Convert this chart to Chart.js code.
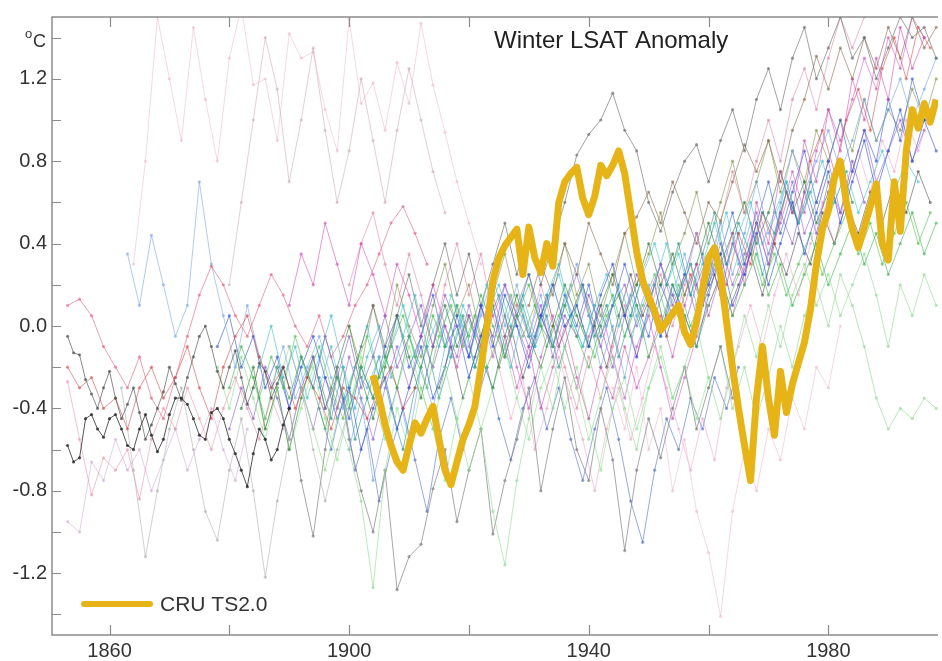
<!DOCTYPE html>
<html>
<head>
<meta charset="utf-8">
<title>Winter LSAT Anomaly</title>
<script src="https://cdn.jsdelivr.net/npm/chart.js@4.4.1/dist/chart.umd.min.js"></script>
<style>
  html, body { margin: 0; padding: 0; background: #fff; overflow: hidden; }
  #wrap { width: 942px; height: 661px; }
</style>
</head>
<body>
<div id="wrap"><canvas id="lsatChart" width="942" height="661"></canvas></div>
<script>
// axis ticks
const xTickYears = [1860, 1880, 1900, 1920, 1940, 1960, 1980];
const xLabelYears = [1860, 1900, 1940, 1980];
const yTickValues = [-1.4, -1.2, -1.0, -0.8, -0.6, -0.4, -0.2, 0.0, 0.2, 0.4, 0.6, 0.8, 1.0, 1.2, 1.4];
const yLabelValues = [-1.2, -0.8, -0.4, 0.0, 0.4, 0.8, 1.2];

// CRU TS2.0, annual from 1904
const cruStart = 1904;
const cruValues = [
  -0.24, -0.35, -0.48, -0.58, -0.66, -0.70, -0.58, -0.47, -0.52, -0.45,
  -0.39, -0.55, -0.70, -0.77, -0.66, -0.55, -0.48, -0.39, -0.20, 0.00,
  0.22, 0.33, 0.39, 0.43, 0.47, 0.25, 0.48, 0.33, 0.26, 0.40,
  0.29, 0.60, 0.70, 0.74, 0.77, 0.62, 0.54, 0.63, 0.78, 0.73,
  0.78, 0.85, 0.74, 0.55, 0.36, 0.22, 0.14, 0.07, -0.02, 0.02,
  0.06, 0.10, -0.03, -0.09, 0.02, 0.18, 0.33, 0.38, 0.25, 0.02,
  -0.20, -0.40, -0.58, -0.75, -0.35, -0.10, -0.35, -0.53, -0.22, -0.42,
  -0.28, -0.18, -0.08, 0.08, 0.30, 0.47, 0.56, 0.72, 0.80, 0.60,
  0.47, 0.38, 0.48, 0.58, 0.69, 0.40, 0.32, 0.70, 0.46, 0.85,
  1.05, 0.96, 1.08, 0.99, 1.10
];

// individual station / proxy series
const s01 = [-0.58,-0.66,-0.64,-0.45,-0.43,-0.50,-0.54,-0.45,-0.43,-0.50,-0.58,-0.60,-0.50,-0.43,-0.53,-0.61,-0.55,-0.43,-0.35,-0.35,-0.38,-0.45,-0.53,-0.55,-0.42,-0.40,-0.45,-0.55,-0.62,-0.70,-0.78,-0.62,-0.50,-0.55,-0.65,-0.60,-0.48,-0.40];
const s02 = [-0.05,-0.13,-0.14,-0.26,-0.33,-0.40,-0.30,-0.22,-0.35,-0.45,-0.38,-0.30,-0.42,-0.55,-0.48,-0.40,-0.32,-0.20,-0.28,-0.36,-0.25,-0.15,-0.05,0.00,-0.10,-0.22,-0.30,-0.20,-0.12,-0.25,-0.38,-0.30,-0.18,-0.22,-0.35,-0.28,-0.20,-0.30];
const s03 = [-0.20,-0.30,-0.25,-0.40,-0.35,-0.50,-0.30,-0.20,-0.35,-0.25,-0.10,-0.30,-0.45,-0.20,-0.05,0.05,-0.15,-0.30,-0.20,-0.40,-0.25,-0.35,-0.50,-0.30,-0.35,-0.45,-0.30,-0.20,-0.40,-0.30];
const s04 = [0.10,0.13,0.05,-0.10,-0.20,-0.30,-0.15,-0.35,-0.45,-0.25,-0.05,0.15,0.29,0.20,0.05,-0.05,0.10,0.25,0.15,0.00,-0.10,0.05,-0.15,-0.05,0.10,0.20,0.35,0.50,0.58,0.45,0.30];
const s05 = [-0.27,-0.55,-0.82,-0.64,-0.70,-0.60,-0.84,-0.55,-0.40,-0.50,-0.30,-0.45,-0.60,-0.40,-0.25,-0.40,-0.55,-0.35,-0.50];
const s06 = [-0.95,-1.00,-0.66,-0.75,-0.55,-0.70,-0.60,-0.80,-0.65,-0.50,-0.70,-0.55,-0.40,-0.60,-0.75,-0.50];
const s07 = [0.35,0.10,0.44,0.20,-0.05,0.10,0.70,0.30,0.05,-0.20,0.10,-0.15,-0.30,-0.10,-0.35,-0.20,-0.05,-0.25,-0.40,-0.20,-0.30,-0.15];
const s08 = [-0.30,-0.70,-1.12,-0.80,-0.50,-0.30,-0.60,-0.90,-1.04,-0.70,-0.45,-0.80,-1.22,-0.85,-0.55,-0.30,-0.60,-0.85,-0.60,-0.40];
const s09 = [0.30,0.80,1.50,1.20,0.90,1.45,1.10,0.80,1.30,1.55,1.17,1.20,0.90,1.42,1.30,1.33,1.05,0.85,1.49,1.08,1.18,0.95,1.28,1.08,1.47,1.17,0.94,0.70,0.50,0.30];
const s10 = [0.20,0.60,1.00,1.40,1.15,0.70,1.00,1.35,0.95,0.60,0.85,1.20,0.90,0.60,0.95,1.25,1.00,0.75,0.55];
const s11 = [-0.30,-0.10,-0.25,-0.45,-0.20,-0.35,-0.15,-0.30,-0.50,-0.25,-0.40,-0.20,-0.35,-0.15,-0.30,-0.05,-0.20,0.05,-0.10,0.10,-0.05,0.15,0.00,-0.15,0.05,0.20,0.00,-0.10,0.10,-0.05,-0.20,0.00,0.15,-0.05,0.10,-0.15,0.00,0.20,0.05,-0.10,0.10,0.25,0.05,0.20,0.35,0.15,0.30,0.10,0.25,0.40,0.20,0.35,0.50,0.30,0.45,0.25,0.40,0.55,0.35,0.50];
const s12 = [-0.20,-0.40,-0.15,-0.35,-0.55,-0.30,-0.10,-0.30,-0.50,-0.70,-0.45,-0.60,-0.85,-1.27,-0.70,-0.40,-0.60,-0.30,-0.50,-0.20,-0.45,-0.70,-0.50,-0.90,-1.16,-0.75,-0.45,-0.20,-0.40,-0.10,-0.30,-0.55,-0.35,-0.15,-0.40,-0.60,-0.30,-0.10,-0.35,-0.20,0.00,-0.25,-0.45,-0.20,0.05,-0.15,0.10,-0.10,0.15,0.30,0.10,0.25,0.05,0.20,0.35,0.15,-0.10,0.20,0.05,0.25,0.10];
const s13 = [-0.10,0.05,-0.20,-0.05,-0.30,-0.15,-0.40,-0.20,-0.05,-0.25,-0.45,-0.30,-0.60,-0.40,-0.25,-0.50,-0.30,-0.10,-0.35,-0.20,0.05,-0.15,0.10,-0.10,0.15,0.00,-0.20,0.05,0.20,0.00,0.10,-0.10,0.15,0.30,0.05,-0.15,0.10,-0.05,0.20,0.05,-0.10,0.15,0.35,0.10,0.25,0.45,0.20,0.40,0.60,0.35,0.55,0.75,0.50,0.70,0.90,0.65,0.85,1.05,0.80,1.00,0.85];
const s14 = [-0.50,-0.30,-0.45,-0.20,-0.35,-0.55,-0.30,-0.15,-0.40,-0.25,-0.05,-0.30,-0.15,0.05,-0.20,-0.05,0.10,-0.10,0.15,0.00,-0.15,0.10,-0.05,0.20,0.05,-0.10,0.10,-0.15,0.05,-0.05,0.15,0.00,-0.20,0.05,0.25,0.10,0.30,0.15,0.00,0.20,0.35,0.15,0.40,0.25,0.50,0.30,0.55,0.40,0.65,0.45,0.70,0.55,0.80,0.60];
const s15 = [-0.20,0.00,-0.25,-0.10,-0.35,-0.15,0.05,-0.20,-0.40,-0.15,0.00,-0.25,-0.05,0.15,-0.10,0.05,-0.15,0.10,-0.05,0.20,0.00,-0.20,0.05,-0.10,0.15,0.30,0.05,-0.10,0.10,0.25,0.00,0.15,-0.05,0.20,0.40,0.15,0.30,0.10,0.35,0.55,0.30,0.50,0.25,0.45,0.70,0.50,0.65,0.80,0.60,0.75];
const s16 = [0.10,0.35,0.20,0.50,0.30,0.10,0.40,0.25,0.05,0.30,0.15,-0.05,0.20,0.00,-0.20,0.05,-0.10,0.15,-0.05,-0.30,-0.10,-0.40,-0.20,0.00,-0.25,-0.45,-0.20,-0.35,-0.10,-0.30,-0.15,0.05,-0.15,0.10,0.30,0.05,0.25,0.45,0.20,0.60,0.40,0.75,0.55,0.90,0.70,1.05,0.85,1.20,1.00,1.30,1.10,1.45,1.25,1.40];
const s17 = [-0.40,-0.75,-1.02,-0.60,-0.20,-0.55,-0.80,-1.00,-0.70,-1.28,-1.12,-1.06,-0.79,-0.60,-0.95,-0.70,-0.50,-1.01,-0.75,-0.55,-0.30,-0.80,-0.50,-0.25,-0.60,-0.75,-0.40,-0.65,-1.09,-0.70,-0.45,-0.64,-0.40,-0.20,-0.50,-0.30,-0.10,-0.35];
const s18 = [-0.30,-0.10,0.10,-0.15,0.05,0.25,0.00,0.20,0.40,0.15,0.35,0.10,0.30,0.50,0.25,0.45,0.20,0.40,0.60,0.83,0.93,1.00,1.13,0.95,0.85,0.60,0.46,0.65,0.80,0.88,0.70,0.90,1.05,0.85,1.10,1.25,1.05,1.30,1.45,1.20,1.35,1.50,1.30,1.40,1.20,1.35,1.50,1.40,1.45,1.30];
const s19 = [0.10,0.30,0.15,0.40,0.25,0.50,0.35,0.20,0.45,0.53,0.65,0.50,0.70,0.55,0.40,0.60,0.51,0.70,0.88,0.75,0.90,0.70,0.95,1.10,1.31,1.15,1.35,1.20,1.40,1.25,1.45,1.30,1.50,1.35,1.45];
const s20 = [-0.30,-0.50,-0.20,-0.60,-0.40,-0.80,-0.55,-0.90,-1.10,-1.41,-0.90,-0.60,-0.80,-0.50,-0.65,-0.35,-0.50,-0.20,-0.30,0.00];
const s21 = [-0.25,-0.45,-0.20,-0.55,-0.35,-0.15,-0.40,-0.60,-0.30,-0.10,-0.35,-0.15,0.05,-0.20,0.00,0.15,-0.05,0.10,-0.10,0.05,-0.20,0.00,0.20,-0.05,0.10,-0.15,0.05,0.25,0.05,0.20,0.40,0.15,0.35,0.55,0.30,0.50,0.35,0.55,0.45,0.65,0.50,0.70];
const s22 = [-0.30,-0.10,-0.40,-0.20,-0.45,-0.25,0.00,-0.20,0.05,0.20,0.00,0.25,0.10,-0.10,-0.35,-0.50,-0.40,-0.45,-0.35,-0.40];
const s23 = [0.05,0.25,0.10,0.35,0.20,0.45,0.30,0.55,0.40,0.65,0.50,0.80,0.95,0.75,1.00,1.15,0.95,1.25,1.40,1.20,1.45,1.35];
const s24 = [-0.60,-0.35,-0.75,-0.50,-0.30,-0.55,-0.20,-0.40,-0.10,0.10,-0.15,0.05,0.25,0.00,0.20,-0.05,0.15,-0.10,0.10,0.30,0.05,-0.20,0.00,-0.25,0.05,0.20,-0.05,0.15,0.35,0.10,0.30,0.50,0.25,0.45,0.70,0.45,0.60,0.85,0.65,0.80,0.95,0.75,0.90,1.10,0.90,1.05,1.20,1.00,1.15,1.30];
const s25 = [-0.40,-0.20,-0.50,-0.30,-0.60,-0.35,-0.15,-0.40,-0.20,0.00,-0.25,-0.45,-0.20,0.05,-0.15,-0.35,-0.10,0.10,-0.10,0.05,-0.15,-0.30,-0.05,0.15,-0.05,-0.20,0.00,0.20,0.05,-0.10,0.10,0.25,0.05,0.20,0.40,0.20,0.35,0.15,0.30,0.50,0.30,0.45,0.60,0.40,0.55,0.75,0.55,0.70,0.50,0.65,0.80,0.60];
const s26 = [0.20,0.40,0.55,0.30,0.10,0.35,0.15,-0.10,0.20,0.40,0.15,0.35,0.05,-0.15,0.10,-0.05,0.20,0.00,-0.20,-0.40,-0.15,-0.35,-0.10,0.10,-0.15,0.05,0.25,0.00,0.20,0.45,0.25,0.50,0.75,0.55,0.80,1.00,0.80,1.10,1.25,1.05,1.30,1.50,1.35,1.50];
const s27 = [-0.35,-0.15,-0.30,-0.05,-0.25,-0.10,-0.30,-0.45,-0.20,-0.05,-0.25,-0.10,0.05,-0.15,-0.30,-0.05,0.10,-0.10,0.05,-0.20,-0.05,0.15,-0.05,0.10,-0.10,0.05,0.20,0.00,-0.15,0.05,0.15,-0.05,0.10,0.25,0.05,0.20,0.00,0.15,0.30,0.10,0.25,0.40,0.20,0.35,0.15,0.30,0.45,0.25,0.40,0.55,0.35,0.50,0.30,0.45,0.60,0.40,0.55];
const s28 = [-0.20,-0.40,-0.15,-0.30,-0.05,-0.25,-0.45,-0.20,-0.35,-0.10,0.05,-0.20,-0.05,0.15,-0.10,0.00,-0.25,-0.05,0.10,-0.15,0.05,0.25,0.05,-0.10,0.15,0.00,0.20,-0.05,0.10,0.30,0.10,-0.05,0.20,0.05,0.25,0.45,0.20,0.35,0.55,0.30,0.50,0.70,0.45,0.65,0.85,0.60,0.80,1.00,0.75,0.95,0.80,1.10,0.90,1.20,1.00];
const s29 = [-0.10,-0.30,-0.50,-0.25,-0.40,-0.15,-0.35,-0.55,-0.30,-0.10,-0.30,-0.05,-0.20,0.00,-0.15,0.10,-0.10,0.05,0.20,0.00,-0.15,0.05,-0.10,0.10,0.25,0.05,-0.10,0.10,0.20,0.00,0.15,0.30,0.10,0.25,0.05,0.20,0.40,0.20,0.35,0.55,0.35,0.50,0.70,0.45,0.60,0.80,0.55,0.75,0.95,0.70,0.85,1.00,0.80,0.95];
const s30 = [-0.30,-0.10,-0.35,-0.20,0.00,-0.25,-0.10,0.10,-0.15,0.05,-0.10,0.15,0.00,-0.20,0.05,0.20,0.00,0.15,-0.05,0.10,0.25,0.05,-0.10,0.10,0.00,0.20,0.05,0.25,0.40,0.20,0.35,0.15,0.30,0.50,0.30,0.45,0.60,0.40,0.55,0.70,0.50,0.65,0.45,0.60,0.75,0.55,0.70,0.85,0.65,0.80,0.70];
const s31 = [-0.25,-0.50,-0.30,-0.60,-0.40,-0.20,-0.45,-0.65,-0.40,-0.15,-0.35,-0.55,-0.30,-0.10,-0.30,-0.50,-0.75,-0.45,-0.25,-0.50,-0.30,-0.10,-0.35,-0.55,-0.30,-0.15,-0.40,-0.20,-0.45,-0.70,-0.40,-0.25,-0.50,-0.30,-0.15,-0.35,-0.20,-0.45,-0.25];
const s32 = [-0.10,0.10,-0.15,0.05,-0.20,-0.40,-0.15,0.05,-0.10,-0.30,-0.05,0.10,-0.15,-0.35,-0.10,0.05,-0.20,-0.45,-0.25,-0.05,0.10,0.25,0.05,0.30,0.50,0.30,0.55,0.75,0.55,0.85,1.05,0.90,1.10,1.30,1.15,1.40,1.25,1.50,1.40];
const s33 = [-0.40,-0.60,-0.35,-0.70,-0.50,-0.85,-0.60,-0.40,-0.65,-0.90,-0.55,-0.35,-0.60,-0.40,-0.20,-0.45,-0.65,-0.40,-0.25,-0.50,-0.30,-0.55,-0.75,-0.50,-0.30,-0.55,-0.85,-1.05,-0.70,-0.45,-0.60,-0.35,-0.50,-0.25,-0.40,-0.20];
const s34 = [0.00,-0.20,0.10,-0.10,0.20,0.00,-0.15,0.10,0.30,0.05,0.20,-0.05,0.15,0.35,0.10,0.25,0.00,0.20,0.40,0.15,0.30,0.05,0.25,0.45,0.20,0.35,0.55,0.30,0.45,0.65,0.40,0.60,0.80,0.55,0.70,0.90,0.65,0.85,0.70,0.95,0.80,1.00,0.85,1.10,0.90,1.05,0.95,1.15,1.00,1.20];
const s35 = [-0.30,-0.10,-0.35,-0.15,0.05,-0.20,0.00,-0.25,-0.05,0.15,-0.10,0.05,0.20,0.00,-0.20,0.05,0.25,0.05,0.20,-0.05,0.15,0.30,0.10,0.25,0.05,0.20,0.35,0.15,0.40,0.25,0.45,0.30,0.55,0.40,0.60,0.45,0.65,0.50,0.70,0.55,0.75,0.60];
const s36 = [-0.20,-0.45,-0.25,-0.60,-0.40,-0.15,-0.35,-0.55,-0.80,-0.50,-0.30,-0.55,-0.35,-0.10,-0.30,-0.50,-0.70,-0.45,-0.65,-0.30,-0.10,0.10,-0.10,0.15,0.35,0.15,0.40,0.60,0.40,0.65,0.85,0.65,0.90,0.75,1.00,0.85,1.05];

const thinValues = [s01, s02, s03, s04, s05, s06, s07, s08, s09, s10, s11, s12, s13, s14, s15, s16, s17, s18,
  s19, s20, s21, s22, s23, s24, s25, s26, s27, s28, s29, s30, s31, s32, s33, s34, s35, s36];
const thinStarts = [1853, 1853, 1853, 1853, 1853, 1853, 1863, 1862, 1864, 1880, 1880, 1878, 1878, 1880, 1885, 1890, 1890, 1900,
  1930, 1944, 1895, 1960, 1955, 1900, 1882, 1900, 1885, 1888, 1890, 1895, 1884, 1920, 1895, 1900, 1915, 1925];
const thinSteps = [1, 1, 2, 2, 2, 2, 2, 2, 2, 2, 2, 2, 2, 2, 2, 2, 2, 2,
  2, 2, 2, 2, 2, 2, 2, 2, 2, 2, 2, 2, 2, 2, 2, 2, 2, 2];

const thinColors = [
  "rgba(30,30,30,0.75)", "rgba(60,60,60,0.6)", "rgba(210,60,60,0.55)", "rgba(225,95,125,0.6)",
  "rgba(230,140,165,0.55)", "rgba(200,160,210,0.5)", "rgba(120,170,225,0.6)", "rgba(170,170,170,0.55)",
  "rgba(240,165,200,0.45)", "rgba(200,160,170,0.5)", "rgba(60,180,75,0.6)", "rgba(140,220,140,0.6)",
  "rgba(45,80,210,0.6)", "rgba(140,90,200,0.6)", "rgba(60,190,200,0.6)", "rgba(210,65,175,0.55)",
  "rgba(130,130,130,0.7)", "rgba(100,100,100,0.6)", "rgba(140,105,75,0.6)", "rgba(240,180,210,0.55)",
  "rgba(40,150,135,0.6)", "rgba(160,220,160,0.7)", "rgba(215,65,65,0.55)", "rgba(110,165,230,0.6)",
  "rgba(45,125,50,0.6)", "rgba(225,125,160,0.55)", "rgba(80,195,80,0.6)", "rgba(58,90,216,0.6)",
  "rgba(154,96,208,0.6)", "rgba(64,200,208,0.6)", "rgba(144,232,144,0.65)", "rgba(200,80,200,0.55)",
  "rgba(64,96,200,0.55)", "rgba(122,138,64,0.55)", "rgba(68,68,68,0.55)", "rgba(240,160,200,0.55)"
];

const cruColor = "#e6b417";
const axisColor = "#8c8c8c";
const textColor = "#333333";

function toPoints(start, step, values) {
  return values.map((v, i) => ({ x: start + i * step, y: v }));
}

const datasets = thinValues.map((vals, i) => ({
  label: "series " + (i + 1),
  data: toPoints(thinStarts[i], thinSteps[i], vals),
  borderColor: thinColors[i],
  backgroundColor: thinColors[i],
  borderWidth: 1,
  pointRadius: 1.6,
  pointBorderWidth: 0,
  tension: 0,
  order: 1
}));

datasets.push({
  label: "CRU TS2.0",
  data: toPoints(cruStart, 1, cruValues),
  borderColor: cruColor,
  borderWidth: 7,
  pointRadius: 0,
  borderJoinStyle: "round",
  tension: 0,
  order: 0
});

const decorPlugin = {
  id: "decor",
  afterDraw(chart) {
    const { ctx, chartArea } = chart;
    const x = chart.scales.x;
    const y = chart.scales.y;
    const L = chartArea.left, R = chartArea.right, T = chartArea.top, B = chartArea.bottom;

    ctx.save();
    ctx.strokeStyle = axisColor;
    ctx.lineWidth = 1.5;

    // frame: left, top, bottom (right side runs off the picture)
    ctx.beginPath();
    ctx.moveTo(R, T); ctx.lineTo(L, T); ctx.lineTo(L, B); ctx.lineTo(R, B);
    ctx.stroke();

    // inward ticks
    ctx.lineWidth = 1.2;
    ctx.beginPath();
    yTickValues.forEach(v => {
      const py = Math.round(y.getPixelForValue(v)) + 0.5;
      ctx.moveTo(L, py); ctx.lineTo(L + 9, py);
    });
    xTickYears.forEach(yr => {
      const px = Math.round(x.getPixelForValue(yr)) + 0.5;
      ctx.moveTo(px, B); ctx.lineTo(px, B - 10);
      ctx.moveTo(px, T); ctx.lineTo(px, T + 10);
    });
    ctx.stroke();

    // title
    ctx.fillStyle = "#222";
    ctx.font = "24px 'Liberation Sans', Arial, sans-serif";
    ctx.textAlign = "left";
    ctx.textBaseline = "alphabetic";
    ctx.fillText("Winter LSAT Anomaly", 494, 48);

    // unit label
    ctx.fillStyle = textColor;
    ctx.font = "13px 'Liberation Sans', Arial, sans-serif";
    ctx.fillText("o", 25, 38);
    ctx.font = "18px 'Liberation Sans', Arial, sans-serif";
    ctx.fillText("C", 33, 47);

    // legend
    ctx.strokeStyle = cruColor;
    ctx.lineWidth = 6;
    ctx.lineCap = "round";
    ctx.beginPath();
    ctx.moveTo(84, 604); ctx.lineTo(150, 604);
    ctx.stroke();
    ctx.fillStyle = textColor;
    ctx.font = "21px 'Liberation Sans', Arial, sans-serif";
    ctx.textBaseline = "middle";
    ctx.fillText("CRU TS2.0", 160, 605);

    ctx.restore();
  }
};

new Chart(document.getElementById("lsatChart"), {
  type: "line",
  data: { datasets: datasets },
  options: {
    responsive: false,
    devicePixelRatio: 1,
    animation: false,
    layout: { padding: { top: 11, right: 0, left: 0, bottom: 0 } },
    plugins: {
      legend: { display: false },
      tooltip: { enabled: false },
      title: { display: false }
    },
    scales: {
      x: {
        type: "linear",
        min: 1850.4,
        max: 1998.3,
        grid: { display: false, drawTicks: false },
        border: { display: false },
        afterFit: s => { s.height = 26; },
        afterBuildTicks: s => { s.ticks = xTickYears.map(v => ({ value: v })); },
        ticks: {
          autoSkip: false,
          maxRotation: 0,
          padding: 4,
          color: textColor,
          font: { family: "'Liberation Sans', Arial, sans-serif", size: 20 },
          callback: v => xLabelYears.includes(v) ? String(v) : ""
        }
      },
      y: {
        min: -1.5,
        max: 1.5,
        grid: { display: false, drawTicks: false },
        border: { display: false },
        afterFit: s => { s.width = 52; },
        afterBuildTicks: s => { s.ticks = yTickValues.map(v => ({ value: v })); },
        ticks: {
          autoSkip: false,
          padding: 5,
          color: textColor,
          font: { family: "'Liberation Sans', Arial, sans-serif", size: 20 },
          callback: v => yLabelValues.some(l => Math.abs(l - v) < 1e-6) ? v.toFixed(1) : ""
        }
      }
    }
  },
  plugins: [decorPlugin]
});
</script>
</body>
</html>
